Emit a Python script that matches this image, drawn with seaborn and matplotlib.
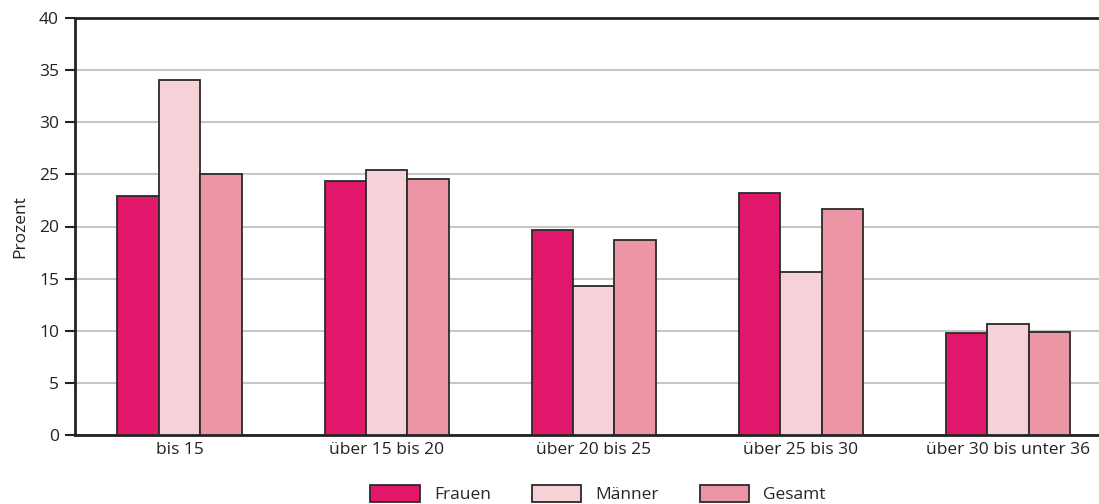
import matplotlib
matplotlib.use("Agg")
import matplotlib.pyplot as plt
import seaborn as sns
import pandas as pd

categories = ["bis 15", "über 15 bis 20", "über 20 bis 25", "über 25 bis 30", "über 30 bis unter 36"]
frauen = [22.9, 24.4, 19.7, 23.2, 9.8]
maenner = [34.1, 25.4, 14.3, 15.6, 10.6]
gesamt = [25.0, 24.6, 18.7, 21.7, 9.9]
series = ["Frauen", "Männer", "Gesamt"]
colors = ["#E0176A", "#F6D1D7", "#EC96A5"]
yticks = [0, 5, 10, 15, 20, 25, 30, 35, 40]

rows = []
for s, vals in zip(series, [frauen, maenner, gesamt]):
    for c, v in zip(categories, vals):
        rows.append({"Kategorie": c, "Serie": s, "Wert": v})
df = pd.DataFrame(rows)

sns.set_theme(style="white")
plt.rcParams["font.family"] = ["Open Sans", "DejaVu Sans"]
FS = 12.5

fig = plt.figure(figsize=(10.99, 5.04), dpi=100)
ax = fig.add_axes([75/1099, 1 - 435/504, 1 - 75/1099, (435 - 18)/504])

sns.barplot(data=df, x="Kategorie", y="Wert", hue="Serie", order=categories,
            hue_order=series, palette=colors, width=0.6, gap=0,
            edgecolor="#2a2a2a", linewidth=1.3, saturation=1, ax=ax, zorder=3)

ax.set_ylim(0, 40)
ax.set_xlim(-0.505, 4.44)
ax.set_yticks(yticks)
ax.set_yticklabels([str(t) for t in yticks], fontsize=FS, color="#222222")
ax.tick_params(axis="y", direction="out", length=7.5, width=1.5, color="#222222", pad=4, left=True)
ax.tick_params(axis="x", length=0, labelsize=FS, labelcolor="#222222", pad=5)
ax.set_xlabel("")
ax.set_ylabel("Prozent", fontsize=FS, color="#222222", labelpad=8)
ax.yaxis.grid(True, color="#c6c6c6", linewidth=1.5, zorder=0)
ax.set_axisbelow(True)
for side in ["left", "bottom", "top"]:
    ax.spines[side].set_visible(True)
    ax.spines[side].set_color("#222222")
    ax.spines[side].set_linewidth(2)
ax.spines["right"].set_visible(False)

handles, labels = ax.get_legend_handles_labels()
ax.get_legend().remove()
fig.legend(handles, labels, loc="center", bbox_to_anchor=(598/1099, 1 - 494/504),
           ncol=3, frameon=False, fontsize=FS, handlelength=2.87, handleheight=1.15,
           columnspacing=2.35, handletextpad=0.8, borderpad=0)

fig.savefig("out.png", dpi=100)
